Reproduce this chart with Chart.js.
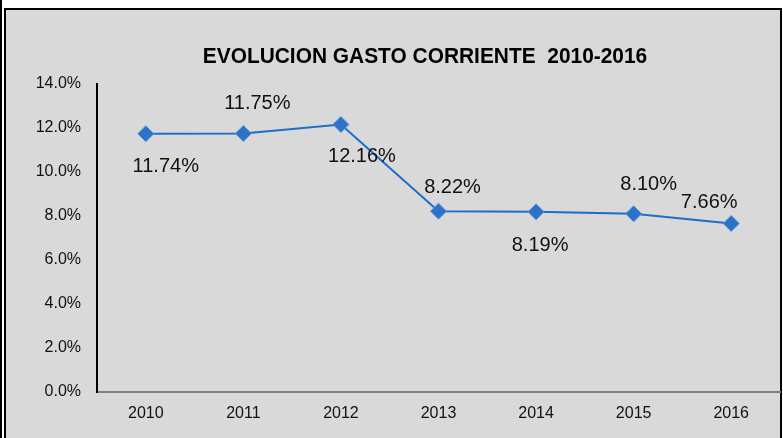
<!DOCTYPE html>
<html>
<head>
<meta charset="utf-8">
<script src="https://cdn.jsdelivr.net/npm/chart.js@4"></script>
<style>
  html, body { margin: 0; padding: 0; background: #fff; overflow: hidden; }
  #wrap { width: 783px; height: 438px; overflow: hidden; }
  #myChart { display: block; }
</style>
</head>
<body>
<div id="wrap"><canvas id="myChart" width="789" height="438"></canvas></div>
<script>
// Data
const years = ['2010', '2011', '2012', '2013', '2014', '2015', '2016'];
const gasto = [11.74, 11.75, 12.16, 8.22, 8.19, 8.10, 7.66];
const yTicks = [0, 2, 4, 6, 8, 10, 12, 14];

// where each value label sits relative to its point
const labelShift = [[20, 33], [14, -30], [21, 32], [14, -24], [4, 34], [15, -29], [-22, -21]];

const font = '"Liberation Sans", Arial, sans-serif';

// grey panel with black frame, drawn behind the chart
const frame = {
    id: 'frame',
    beforeDraw(chart) {
        const ctx = chart.ctx;
        ctx.save();
        ctx.fillStyle = '#fff';
        ctx.fillRect(0, 0, chart.width, chart.height);
        ctx.fillStyle = '#d9d9d9';
        ctx.fillRect(4, 8, 778, chart.height - 8);
        ctx.fillStyle = '#000';
        ctx.fillRect(0, 0, 2, chart.height);   // outer left line
        ctx.fillRect(4, 8, 2, chart.height);   // left
        ctx.fillRect(4, 8, 778, 2);            // top
        ctx.fillRect(780, 8, 2, chart.height); // right
        ctx.restore();
    }
};

// title + value labels
const extras = {
    id: 'extras',
    afterDatasetsDraw(chart) {
        const ctx = chart.ctx;
        ctx.save();
        ctx.fillStyle = '#000';
        ctx.textAlign = 'center';
        ctx.textBaseline = 'middle';
        ctx.save();
        ctx.translate(425, 57);
        ctx.scale(0.95, 1);
        ctx.font = 'bold 22px ' + font;
        ctx.fillText('EVOLUCION GASTO CORRIENTE  2010-2016', 0, 0);
        ctx.restore();

        ctx.font = '20px ' + font;
        ctx.fillStyle = '#111';
        const pts = chart.getDatasetMeta(0).data;
        pts.forEach((p, i) => {
            const s = labelShift[i];
            ctx.fillText(gasto[i].toFixed(2) + '%', p.x + s[0], p.y + s[1]);
        });
        ctx.restore();
    }
};

new Chart(document.getElementById('myChart'), {
    type: 'line',
    data: {
        labels: years,
        datasets: [{
            data: gasto,
            borderColor: '#1a6fc8',
            borderWidth: 2,
            backgroundColor: '#2c72c6',
            pointStyle: 'rectRot',
            pointRadius: 8,
            pointBorderColor: '#5a93d6',
            pointBorderWidth: 1,
            tension: 0
        }]
    },
    options: {
        responsive: false,
        animation: false,
        layout: { padding: { top: 84, right: 0, left: 0, bottom: 0 } },
        plugins: { legend: { display: false }, tooltip: { enabled: false } },
        scales: {
            x: {
                offset: true,
                afterFit: s => { s.height = 46; },
                grid: { display: false, drawTicks: false },
                border: { display: true, color: '#808080', width: 2 },
                ticks: { color: '#111', padding: 12, font: { family: font, size: 16 } }
            },
            y: {
                min: 0,
                max: 14,
                afterFit: s => { s.width = 97; },
                afterBuildTicks: s => { s.ticks = yTicks.map(v => ({ value: v })); },
                grid: { display: false, drawTicks: false },
                border: { display: true, color: '#000', width: 2 },
                ticks: {
                    color: '#111',
                    padding: 16,
                    font: { family: font, size: 16 },
                    callback: v => v.toFixed(1) + '%'
                }
            }
        }
    },
    plugins: [frame, extras]
});
</script>
</body>
</html>
